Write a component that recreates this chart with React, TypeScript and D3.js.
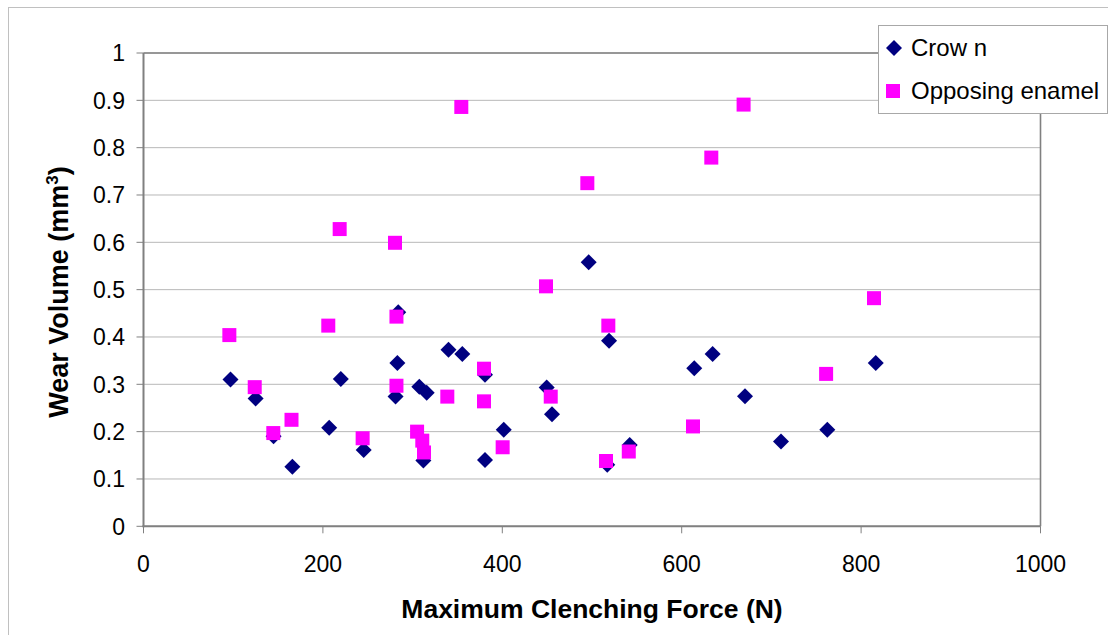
import React from "react";
import * as d3 from "d3";

const crownForce = [97, 125, 145, 166, 207, 220, 245.5, 281, 283, 284, 307.5, 315.7, 312, 340, 355.4, 380.7, 380.7, 401.6, 449.5, 455.4, 496.3, 519, 517, 542, 614, 634.5, 670.6, 710.7, 762.3, 816.3];
const crownWear = [0.31, 0.27, 0.19, 0.126, 0.208, 0.311, 0.161, 0.274, 0.345, 0.452, 0.295, 0.282, 0.139, 0.373, 0.364, 0.32, 0.14, 0.204, 0.293, 0.237, 0.558, 0.392, 0.13, 0.172, 0.334, 0.364, 0.275, 0.179, 0.204, 0.345];

const enamelForce = [95.7, 124, 144.7, 165, 206, 218.7, 244.3, 280.4, 282, 282, 305, 310.8, 312.7, 338.7, 354.3, 379.6, 379.6, 400.4, 448.7, 454, 494.8, 518.2, 515.6, 541, 612.6, 633, 669, 761, 814.4];
const enamelWear = [0.404, 0.294, 0.197, 0.225, 0.424, 0.628, 0.186, 0.599, 0.443, 0.297, 0.2, 0.181, 0.156, 0.274, 0.886, 0.333, 0.264, 0.167, 0.507, 0.274, 0.725, 0.424, 0.138, 0.158, 0.211, 0.779, 0.891, 0.322, 0.482];

const xTicks = [0, 200, 400, 600, 800, 1000];
const yTicks = [0, 0.1, 0.2, 0.3, 0.4, 0.5, 0.6, 0.7, 0.8, 0.9, 1];

const seriesNames = ["Crow n", "Opposing enamel"];
const CROWN = "#000080";
const ENAMEL = "#ff00ff";

export default function App() {
  const W = 1108, H = 635;
  const x = d3.scaleLinear().domain([0, 1000]).range([143.5, 1040.5]);
  const y = d3.scaleLinear().domain([0, 1]).range([526.3, 53]);
  const square = d3.symbol().type(d3.symbolSquare).size(196)() as string;
  const diamond = d3.symbol().type(d3.symbolSquare).size(128)() as string;
  const font = "'Liberation Sans', Arial, sans-serif";
  const [x0, x1] = x.range();
  const [yb, yt] = y.range();

  return (
    <svg width={W} height={H} style={{ position: "absolute", left: 0, top: 0, background: "#fff" }} fontFamily={font}>
      <rect x={8.5} y={7.5} width={1130} height={660} fill="#fff" stroke="#c0c0c0" strokeWidth={1} />
      {yTicks.map((t) => (
        <line key={"g" + t} x1={x0} x2={x1} y1={y(t)} y2={y(t)} stroke="#b8b8b8" strokeWidth={1} />
      ))}
      {/* plot border */}
      <line x1={x0} x2={x1} y1={yt} y2={yt} stroke="#808080" strokeWidth={1.6} />
      <line x1={x1} x2={x1} y1={yt} y2={yb} stroke="#808080" strokeWidth={1.6} />
      <line x1={x0} x2={x0} y1={yt} y2={yb + 1} stroke="#808080" strokeWidth={2} />
      <line x1={x0 - 1} x2={x1} y1={yb} y2={yb} stroke="#808080" strokeWidth={2} />
      {yTicks.map((t) => (
        <g key={"y" + t}>
          <line x1={x0 - 7} x2={x0} y1={y(t)} y2={y(t)} stroke="#808080" strokeWidth={1} />
          <text x={125} y={y(t)} dy="0.36em" textAnchor="end" fontSize={23} fill="#000">
            {d3.format("")(t)}
          </text>
        </g>
      ))}
      {xTicks.map((t) => (
        <g key={"x" + t}>
          <line x1={x(t)} x2={x(t)} y1={yb} y2={yb + 7} stroke="#808080" strokeWidth={1} />
          <text x={x(t)} y={572} textAnchor="middle" fontSize={23} fill="#000">
            {t}
          </text>
        </g>
      ))}
      {crownForce.map((f, i) => (
        <path key={"c" + i} d={diamond} transform={`translate(${x(f)},${y(crownWear[i])}) rotate(45)`} fill={CROWN} />
      ))}
      {enamelForce.map((f, i) => (
        <path key={"e" + i} d={square} transform={`translate(${x(f)},${y(enamelWear[i])})`} fill={ENAMEL} />
      ))}
      <text x={592} y={618} textAnchor="middle" fontSize={26.5} fontWeight="bold" fill="#000">
        Maximum Clenching Force (N)
      </text>
      <text transform="translate(68,292) rotate(-90)" textAnchor="middle" fontSize={27} fontWeight="bold" fill="#000">
        Wear Volume (mm<tspan dy={-10} fontSize={17}>3</tspan><tspan dy={10}>)</tspan>
      </text>
      {/* legend */}
      <rect x={878.5} y={25.5} width={229} height={88} fill="#fff" stroke="#a8a8a8" strokeWidth={1} />
      <path d={diamond} transform="translate(894,48) rotate(45)" fill={CROWN} />
      <text x={911} y={56} fontSize={24} fill="#000">{seriesNames[0]}</text>
      <path d={square} transform="translate(893,91)" fill={ENAMEL} />
      <text x={911} y={99} fontSize={24} fill="#000">{seriesNames[1]}</text>
    </svg>
  );
}
